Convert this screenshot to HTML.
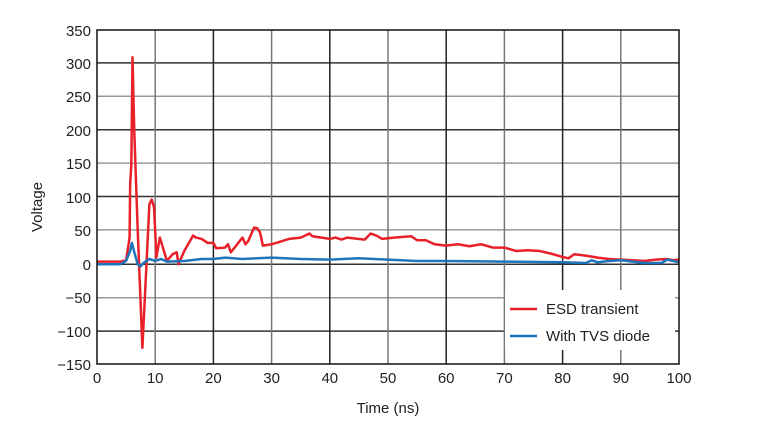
<!DOCTYPE html>
<html><head><meta charset="utf-8"><style>
html,body{margin:0;padding:0;background:#fff;}
svg{display:block;font-family:"Liberation Sans",sans-serif;}
</style></head><body>
<svg width="770" height="434" viewBox="0 0 770 434" xmlns="http://www.w3.org/2000/svg">
<rect width="770" height="434" fill="#fff"/>
<g stroke-width="1.5">
<line x1="97" x2="679" y1="62.9" y2="62.9" stroke="#333"/>
<line x1="97" x2="679" y1="96.3" y2="96.3" stroke="#999"/>
<line x1="97" x2="679" y1="129.7" y2="129.7" stroke="#333"/>
<line x1="97" x2="679" y1="163.1" y2="163.1" stroke="#999"/>
<line x1="97" x2="679" y1="196.5" y2="196.5" stroke="#333"/>
<line x1="97" x2="679" y1="229.9" y2="229.9" stroke="#999"/>
<line x1="97" x2="679" y1="264.3" y2="264.3" stroke="#333"/>
<line x1="97" x2="679" y1="297.7" y2="297.7" stroke="#999"/>
<line x1="97" x2="679" y1="331.1" y2="331.1" stroke="#333"/>
<line y1="30" y2="364" x1="155.2" x2="155.2" stroke="#777"/>
<line y1="30" y2="364" x1="213.4" x2="213.4" stroke="#222"/>
<line y1="30" y2="364" x1="271.6" x2="271.6" stroke="#777"/>
<line y1="30" y2="364" x1="329.8" x2="329.8" stroke="#222"/>
<line y1="30" y2="364" x1="388" x2="388" stroke="#777"/>
<line y1="30" y2="364" x1="446.2" x2="446.2" stroke="#222"/>
<line y1="30" y2="364" x1="504.4" x2="504.4" stroke="#777"/>
<line y1="30" y2="364" x1="562.6" x2="562.6" stroke="#222"/>
<line y1="30" y2="364" x1="620.8" x2="620.8" stroke="#777"/>
</g>
<rect x="505" y="290" width="170" height="60" fill="#fff"/>
<g transform="translate(97,264.3) scale(5.82,-0.668)" fill="none" stroke-linejoin="round">
<polyline vector-effect="non-scaling-stroke" stroke="#e8202a" stroke-width="2.5" points="0,4 4,4 5,6 5.6,40 5.7,120 5.9,150 6.1,310 6.4,200 7,50 7.8,-125 8.5,0 9,90 9.4,97 9.8,85 10,50 10.2,10 10.8,40 11.5,20 12,5 13,15 13.7,18 14,0 15,20 16.5,43 17,40 18,38 19,32 20,32 20.5,24 22,25 22.5,30 23,18 25,40 25.5,30 26,35 27,55 27.5,54 28,48 28.5,28 30,30 33,38 35,40 36.5,46 37,42 40,38 41,40 42,37 43,40 46,37 47,46 48,43 49,38 51,40 54,42 55,36 56.5,36 58,30 60,28 62,30 64,27 66,30 68,25 70,25 72,20 74,21 76,20 78,16 80,11 81,9 82,15 84,13 86,10 88,8 90,7 92,6 94,5 96,7 98,8 99,6 100,7"/>
<polyline vector-effect="non-scaling-stroke" stroke="#1f75bc" stroke-width="2.5" points="0,0 4,0 5,5 5.7,20 6,32 6.5,15 7,0 7.5,-3 8,2 9,8 10,5 11,8 12,4 15,5 18,8 20,8 22,10 25,8 30,10 35,8 40,7 45,9 50,7 55,5 60,5 70,4 80,3 84,2 85,6 86,3 88,5 90,6 92,4 94,2 97,2 98,7 100,3"/>
</g>
<rect x="97" y="30" width="582" height="334" fill="none" stroke="#111" stroke-width="1.5"/>
<line x1="510" x2="537" y1="309" y2="309" stroke="#e8202a" stroke-width="2.5"/>
<line x1="510" x2="537" y1="336" y2="336" stroke="#1f75bc" stroke-width="2.5"/>
<g font-size="15" fill="#222">
<text x="546" y="314">ESD transient</text>
<text x="546" y="341">With TVS diode</text>
</g>
<g font-size="15" fill="#222" text-anchor="end">
<text x="91" y="36">350</text><text x="91" y="69">300</text><text x="91" y="102">250</text>
<text x="91" y="136">200</text><text x="91" y="169">150</text><text x="91" y="203">100</text>
<text x="91" y="236">50</text><text x="91" y="270">0</text><text x="91" y="303">−50</text>
<text x="91" y="337">−100</text><text x="91" y="370">−150</text>
</g>
<g font-size="15" fill="#222" text-anchor="middle">
<text x="97" y="383">0</text><text x="155.2" y="383">10</text><text x="213.4" y="383">20</text>
<text x="271.6" y="383">30</text><text x="329.8" y="383">40</text><text x="388" y="383">50</text>
<text x="446.2" y="383">60</text><text x="504.4" y="383">70</text><text x="562.6" y="383">80</text>
<text x="620.8" y="383">90</text><text x="679" y="383">100</text>
<text x="388" y="413">Time (ns)</text>
<text transform="translate(42,207) rotate(-90)">Voltage</text>
</g>
</svg>
</body></html>
